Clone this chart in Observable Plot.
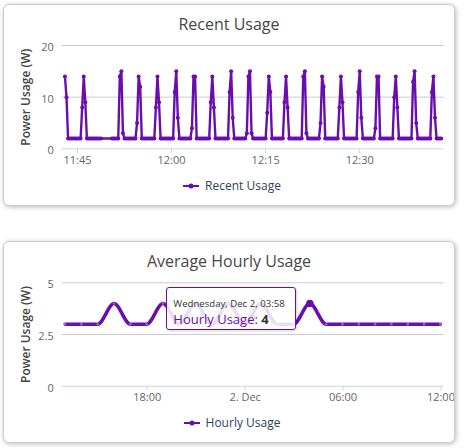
<!DOCTYPE html>
<html>
<head>
<meta charset="utf-8">
<script src="https://cdn.jsdelivr.net/npm/d3@7"></script>
<script src="https://cdn.jsdelivr.net/npm/@observablehq/plot@0.6"></script>
<style>
html, body { margin: 0; padding: 0; background: #fff; width: 466px; height: 448px; overflow: hidden; font-family: "Open Sans", sans-serif; }
.card { position: absolute; left: 3px; width: 452px; height: 202px; box-sizing: border-box; border: 1px solid #cdcdcd; border-radius: 6px; background: #fff; box-shadow: 1px 1px 5px rgba(0,0,0,0.28); overflow: hidden; }
.title { position: absolute; left: 0; width: 100%; top: 9.3px; text-align: center; font-size: 16px; line-height: 20px; color: #484848; white-space: nowrap; }
.legend { position: absolute; left: 0; width: 100%; top: 173.3px; display: flex; justify-content: center; align-items: center; font-size: 12px; line-height: 16px; color: #2e4259; padding-left: 6px; box-sizing: border-box; white-space: nowrap; }
.legend svg { margin-right: 6px; }
.plotwrap { position: absolute; left: 0; top: 30px; }
.tooltip { position: absolute; width: 130px; height: 43.5px; box-sizing: border-box; border: 1px solid #6a0dad; border-radius: 3px; background: rgba(255,255,255,0.86); box-shadow: 1px 1px 3px rgba(0,0,0,0.18); }
.tooltip .head { position: absolute; left: 6.5px; top: 10px; font-size: 9.6px; line-height: 12px; color: #333; white-space: nowrap; }
.tooltip .body { position: absolute; left: 6.5px; top: 23.5px; font-size: 13px; line-height: 16px; white-space: nowrap; }
</style>
</head>
<body>
<div class="card" id="card1" style="top:4px">
  <div class="title" id="title1"></div>
  <div class="plotwrap" id="plot1"></div>
  <div class="legend" id="legend1"></div>
</div>
<div class="card" id="card2" style="top:241px">
  <div class="title" id="title2"></div>
  <div class="plotwrap" id="plot2"></div>
  <div class="legend" id="legend2"></div>
</div>
<script>
// ---------- data: Recent Usage ----------
const recentTitle = "Recent Usage";
const recentSeriesName = "Recent Usage";
const recentDay = "2020-12-02T";
const recentStart = "11:43:00";
const recentEnd = "12:43:00";
const recentStepSeconds = 15;
const recentGap = ["11:48:45", "11:50:30"]; // no samples strictly between these
const recentBaseline = 2;
const spikeStarts = ["11:43:00","11:45:45","11:51:45","11:54:30","11:57:30","12:00:30","12:03:15","12:06:15","12:09:15","12:12:00",
                     "12:15:15","12:18:00","12:21:00","12:23:45","12:26:45","12:29:45","12:32:30","12:35:30","12:38:30","12:41:30"];
const spikeValues = [[14,10],[8,14,9],[14,15,3],[5,14,12],[8,14,9],[11,15,6],[4,14,14],[9,14,8],[11,15,6],[3,14,15,3],
                     [7,14,11],[9,14,8],[14,15,3],[5,14,12],[8,14,9],[11,15,6],[4,14,14],[10,14,8],[13,15,5],[11,14,6]];
const recentTicks = ["11:45:00","12:00:00","12:15:00","12:30:00"];
const recentDomain = ["11:42:30","12:43:28"];
const recentYTicks = [0, 10, 20];

// ---------- data: Average Hourly Usage ----------
const hourlyTitle = "Average Hourly Usage";
const hourlySeriesName = "Hourly Usage";
const hourlyTimes = ["2020-12-01T12:58:00","2020-12-01T13:58:00","2020-12-01T14:58:00","2020-12-01T15:58:00","2020-12-01T16:58:00","2020-12-01T17:58:00",
                     "2020-12-01T18:58:00","2020-12-01T19:58:00","2020-12-01T20:58:00","2020-12-01T21:58:00","2020-12-01T22:58:00","2020-12-01T23:58:00",
                     "2020-12-02T00:58:00","2020-12-02T01:58:00","2020-12-02T02:58:00","2020-12-02T03:58:00","2020-12-02T04:58:00","2020-12-02T05:58:00",
                     "2020-12-02T06:58:00","2020-12-02T07:58:00","2020-12-02T08:58:00","2020-12-02T09:58:00","2020-12-02T10:58:00","2020-12-02T11:58:00"];
const hourlyValues = [3,3,3,4,3,3,4,3,4,3,4,3,4,3,3,4,3,3,3,3,3,3,3,3];
const hourlyTicks = ["2020-12-01T18:00:00","2020-12-02T00:00:00","2020-12-02T06:00:00","2020-12-02T12:00:00"];
const hourlyTickLabels = ["18:00","2. Dec","06:00","12:00"];
const hourlyDomain = ["2020-12-01T12:46:00","2020-12-02T12:12:00"];
const hourlyYTicks = [0, 2.5, 5];
const hoveredIndex = 15;

const yTitle = "Power Usage (W)";
const purple = "#6a0dad";

// ---------- build ----------
const parse = d3.utcParse("%Y-%m-%dT%H:%M:%S");
const spikeMap = new Map();
spikeStarts.forEach((s, i) => {
  const t0 = +parse(recentDay + s);
  spikeValues[i].forEach((v, j) => spikeMap.set(t0 + j * recentStepSeconds * 1000, v));
});
const gapA = +parse(recentDay + recentGap[0]), gapB = +parse(recentDay + recentGap[1]);
const recent = [];
for (let t = +parse(recentDay + recentStart); t <= +parse(recentDay + recentEnd); t += recentStepSeconds * 1000) {
  if (t > gapA && t < gapB) continue;
  recent.push({t: new Date(t), v: spikeMap.has(t) ? spikeMap.get(t) : recentBaseline});
}
const hourly = hourlyTimes.map((s, i) => ({t: parse(s), v: hourlyValues[i]}));
const hourlyLabelMap = new Map(hourlyTicks.map((s, i) => [+parse(s), hourlyTickLabels[i]]));

const common = (extra) => Object.assign({
  width: 450,
  marginLeft: 57.3,
  marginRight: 10.3,
  style: {fontFamily: "Open Sans, sans-serif", background: "transparent", overflow: "visible"}
}, extra);

const axisMarks = (xt, fmt, yt) => [
  Plot.gridY(yt.filter(d => d !== 0), {stroke: "#cccccc", strokeOpacity: 1}),
  Plot.ruleY([0], {stroke: "#ccd6eb"}),
  Plot.axisX(xt, {tickSize: 5, tickPadding: 2, stroke: "#ccd6eb", fill: "#666", fontSize: 11, tickFormat: fmt, label: null}),
  Plot.axisY(yt, {tickSize: 0, tickPadding: 8, fill: "#666", fontSize: 11, dy: 2, label: null, tickFormat: d => String(d)}),
  Plot.text([yTitle], {frameAnchor: "left", dx: -35.5, rotate: -90, text: d => d, fill: "#444", fontSize: 12, fontWeight: 600, textAnchor: "middle"})
];

const p1 = Plot.plot(common({
  height: 143,
  marginTop: 10,
  marginBottom: 29.7,
  x: {type: "utc", domain: recentDomain.map(s => parse(recentDay + s))},
  y: {domain: [0, 20]},
  marks: [
    ...axisMarks(recentTicks.map(s => parse(recentDay + s)), d3.utcFormat("%H:%M"), recentYTicks),
    Plot.line(recent, {x: "t", y: "v", stroke: purple, strokeWidth: 2.4}),
    Plot.dot(recent, {x: "t", y: "v", r: 2, fill: purple})
  ]
}));
document.getElementById("plot1").appendChild(p1);

const p2 = Plot.plot(common({
  height: 143.7,
  marginTop: 10.3,
  marginBottom: 30,
  x: {type: "utc", domain: hourlyDomain.map(parse)},
  y: {domain: [0, 5]},
  marks: [
    ...axisMarks(hourlyTicks.map(parse), d => hourlyLabelMap.get(+d), hourlyYTicks),
    Plot.line(hourly, {x: "t", y: "v", stroke: purple, strokeWidth: 3.5, curve: "monotone-x"}),
    Plot.dot(hourly, {x: "t", y: "v", r: 1.3, fill: "#fff", fillOpacity: 0.35}),
    Plot.dot([hourly[hoveredIndex]], {x: "t", y: "v", r: 3.8, fill: purple})
  ]
}));
document.getElementById("plot2").appendChild(p2);

document.getElementById("title1").textContent = recentTitle;
document.getElementById("title2").textContent = hourlyTitle;

function legend(el, name) {
  el.innerHTML = `<svg width="16" height="10"><line x1="0" y1="5" x2="16" y2="5" stroke="${purple}" stroke-width="2"/><circle cx="8" cy="5" r="2.5" fill="${purple}"/></svg><span></span>`;
  el.querySelector("span").textContent = name;
}
legend(document.getElementById("legend1"), recentSeriesName);
legend(document.getElementById("legend2"), hourlySeriesName);

// tooltip on hovered point
const hp = hourly[hoveredIndex];
const px = p2.scale("x").apply(hp.t);
const py = p2.scale("y").apply(hp.v);
const tip = document.createElement("div");
tip.className = "tooltip";
tip.style.left = (px - 143.5) + "px";
tip.style.top = (py + 30 - 16) + "px";
const head = document.createElement("div");
head.className = "head";
head.textContent = d3.utcFormat("%A, %b %-d, %H:%M")(hp.t);
const body = document.createElement("div");
body.className = "body";
body.innerHTML = `<span style="color:${purple}">${hourlySeriesName}: </span><b style="color:#333">${hp.v}</b>`;
tip.appendChild(head);
tip.appendChild(body);
document.getElementById("card2").appendChild(tip);
</script>
</body>
</html>
